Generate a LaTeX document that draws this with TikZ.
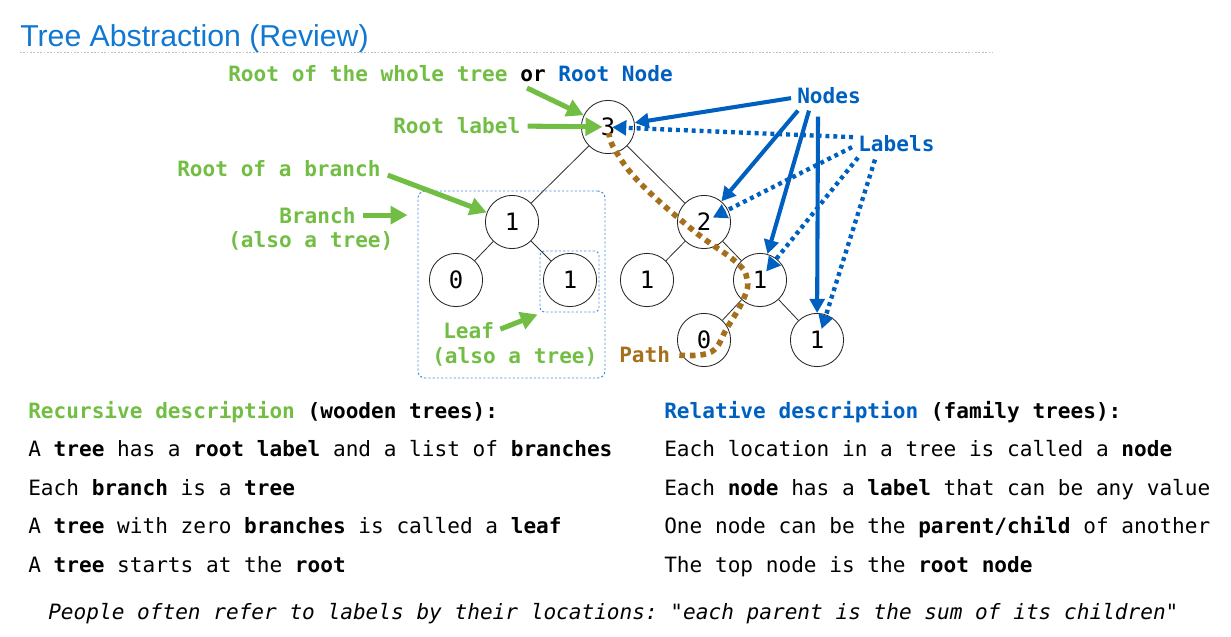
\documentclass[tikz,border=0pt]{standalone}
\usepackage{fontspec}
\setmonofont{DejaVu Sans Mono}
\setsansfont{Liberation Sans}
\usepackage{xcolor}
\usepackage{tikz}
\usetikzlibrary{positioning,calc,fit,arrows.meta}
\definecolor{titleblue}{RGB}{16,120,210}
\definecolor{codeblue}{RGB}{0,96,192}
\definecolor{leafgreen}{RGB}{114,190,68}
\definecolor{pathbrown}{RGB}{165,112,28}
\definecolor{boxblue}{RGB}{70,140,215}

\begin{document}
\begin{tikzpicture}[x=0.025cm, y=-0.025cm,
	% nodes of the tree
	tnode/.style={
		draw=black!85,
		line width=0.6pt,
		circle,
		minimum size=1.33cm,
		inner sep=0pt,
		font=\ttfamily\fontsize{17}{20}\selectfont
	},
	treeline/.style={draw=black!80, line width=0.6pt},
	% texts
	txt/.style={anchor=base west, inner sep=0pt, font=\ttfamily\fontsize{15}{18}\selectfont},
	note/.style={txt, font=\ttfamily\bfseries\fontsize{15}{18}\selectfont},
	% arrows
	greenarrow/.style={leafgreen, line width=3.6pt, -{Triangle[length=12pt,width=12.5pt]}},
	nodearrow/.style={codeblue, line width=2.9pt, -{Triangle[length=10pt,width=10.5pt]}},
	labelarrow/.style={codeblue, line width=3.1pt, dash pattern=on 2.8pt off 2.8pt, -{Triangle[length=10pt,width=10.5pt]}},
	pathline/.style={pathbrown, line width=4pt, dash pattern=on 4pt off 3.5pt},
	dotbox/.style={draw=boxblue, line width=0.7pt, dash pattern=on 1.5pt off 1.5pt, rounded corners=5pt, inner sep=0pt}
	]
	\useasboundingbox (0,0) rectangle (1231,637);
	
	% title
	\node[anchor=base west, inner sep=0pt, font=\sffamily\fontsize{21.5}{24}\selectfont, text=titleblue] (title) at (20,47) {Tree Abstraction (Review)};
	\draw[black!25, line width=0.5pt, dash pattern=on 1.2pt off 1.2pt] (20,52) -- (993,52);
	
	% the tree
	\node[tnode] (root) at (608,127) {3};
	\node[tnode] (left) at (512,222) {1};
	\node[tnode] (right) at (704,222) {2};
	\node[tnode] (ll) at (456,280) {0};
	\node[tnode] (lr) at (570,280) {1};
	\node[tnode] (rl) at (647,280) {1};
	\node[tnode] (rr) at (760,280) {1};
	\node[tnode] (rrl) at (704,340) {0};
	\node[tnode] (rrr) at (817,340) {1};
	\draw[treeline] (root) -- (left);
	\draw[treeline] (root) -- (right);
	\draw[treeline] (left) -- (ll);
	\draw[treeline] (left) -- (lr);
	\draw[treeline] (right) -- (rl);
	\draw[treeline] (right) -- (rr);
	\draw[treeline] (rr) -- (rrl);
	\draw[treeline] (rr) -- (rrr);
	
	% dotted boxes round the branch and the leaf
	\node[dotbox, fit={(418,191) (605,378)}] (branchbox) {};
	\node[dotbox, rounded corners=3pt, fit={(540,251) (599,312)}] (leafbox) {};
	
	% green notes
	\node[note, text=leafgreen] (whole) at (228,81) {Root of the whole tree \textcolor{black}{or} \textcolor{codeblue}{Root Node}};
	\node[note, text=leafgreen] (rootlbl) at (393,133) {Root label};
	\node[note, text=leafgreen] (brroot) at (177,176) {Root of a branch};
	\node[note, text=leafgreen] (branch) at (279,223) {Branch};
	\node[note, text=leafgreen] (branchsub) at (228,247) {(also a tree)};
	\node[note, text=leafgreen] (leaf) at (443,338) {Leaf};
	\node[note, text=leafgreen] (leafsub) at (432,363) {(also a tree)};
	\node[note, text=pathbrown] (pathtxt) at (619,362) {Path};
	\node[note, text=codeblue] (nodes) at (797,104) {Nodes};
	\node[note, text=codeblue] (labels) at (858,152) {Labels};
	
	\coordinate (wholearr) at (527,88);
	\draw[greenarrow] (wholearr) -- (root);
	\draw[greenarrow] ($(rootlbl.east)+(7,1)$) -- ($(root.center)!4pt!(rootlbl.east)$);
	\draw[greenarrow] ($(brroot.east)+(7,7)$) -- (left);
	\draw[greenarrow] ($(branch.east)+(7,0)$) -- ($(branchbox.west |- branch.east)+(-10,0)$);
	\draw[greenarrow] ($(leaf.east)+(6,-1)$) -- ($(leafbox.south west)+(-2,2)$);
	
	% nodes and labels
	\draw[nodearrow] ($(nodes.west)+(-6,2)$) -- (root);
	\draw[nodearrow] ($(nodes.south west)+(1,6)$) -- (right);
	\draw[nodearrow] ($(nodes.south west)+(12,6)$) -- (rr);
	\draw[nodearrow] ($(nodes.south west)+(21,12)$) -- (rrr);
	\draw[labelarrow] ($(labels.west)+(-5,-7)$) -- ($(root.center)!3pt!(labels.west)$);
	\draw[labelarrow] ($(labels.west)+(-6,3)$) -- ($(right.center)!7pt!(labels.west)$);
	\draw[labelarrow] ($(labels.south west)+(0,5)$) -- ($(rr.center)!7.5pt!(labels.west)$);
	\draw[labelarrow] ($(labels.south west)+(17,7)$) -- ($(rrr.center)!8.5pt!(labels.south)$);
	
	% the path from the root down to a leaf
	\draw[pathline] plot[smooth, tension=0.7] coordinates {($(pathtxt.east)+(9,1)$) (711,352) (727,328) (744,298) (747,279) (736,262) (694,231) (641,184) (615,150) (609,133)};
	
	% two descriptions
	\node[txt] (rec) at (28,418) {\textbf{\textcolor{leafgreen}{Recursive description}} \textbf{(wooden trees):}};
	\node[txt] (recA) at (28,456.5) {A \textbf{tree} has a \textbf{root label} and a list of \textbf{branches}};
	\node[txt] (recB) at (28,495) {Each \textbf{branch} is a \textbf{tree}};
	\node[txt] (recC) at (28,533.5) {A \textbf{tree} with zero \textbf{branches} is called a \textbf{leaf}};
	\node[txt] (recD) at (28,572) {A \textbf{tree} starts at the \textbf{root}};
	
	\node[txt] (rel) at (664,418) {\textbf{\textcolor{codeblue}{Relative description}} \textbf{(family trees):}};
	\node[txt] (relA) at (664,456.5) {Each location in a tree is called a \textbf{node}};
	\node[txt] (relB) at (664,495) {Each \textbf{node} has a \textbf{label} that can be any value};
	\node[txt] (relC) at (664,533.5) {One node can be the \textbf{parent/child} of another};
	\node[txt] (relD) at (664,572) {The top node is the \textbf{root node}};
	
	\node[txt, font=\ttfamily\itshape\fontsize{15}{18}\selectfont] (quote) at (48,619) {People often refer to labels by their locations: "each parent is the sum of its children"};
\end{tikzpicture}
\end{document}
